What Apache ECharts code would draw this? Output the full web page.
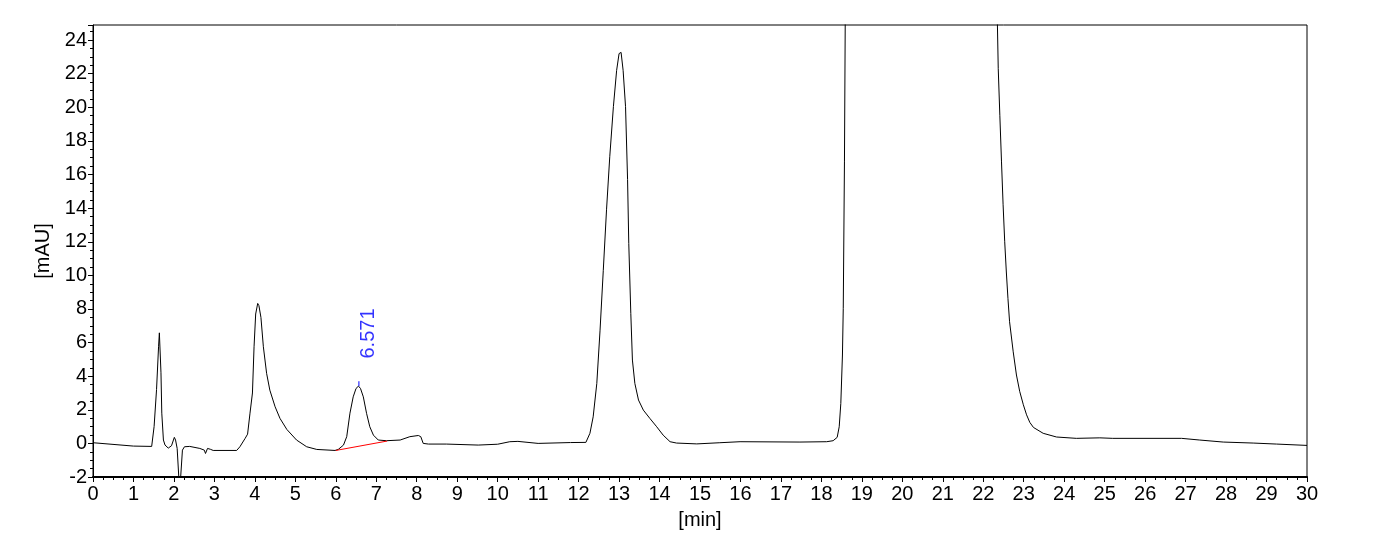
<!DOCTYPE html>
<html>
<head>
<meta charset="utf-8">
<script src="https://cdn.jsdelivr.net/npm/echarts@6/dist/echarts.min.js"></script>
<style>
html,body{margin:0;padding:0;background:#fff;}
#chart{width:1381px;height:551px;}
</style>
</head>
<body>
<div id="chart"></div>
<script>
// Retention time (min)
var times = [
  0.00, 1.00, 1.45, 1.51, 1.57, 1.62, 1.64, 1.68, 1.70, 1.74, 1.78, 1.86, 1.94, 2.01, 2.04, 2.08, 2.12, 2.15, 2.17, 2.21, 2.26,
  2.39, 2.64, 2.75, 2.78, 2.83, 2.90, 2.97, 3.55, 3.63, 3.76, 3.82, 3.88, 3.94, 3.98, 4.02, 4.07, 4.10, 4.15, 4.21,
  4.29, 4.37, 4.50, 4.62, 4.79, 5.03, 5.28, 5.53, 5.98, 6.06, 6.19, 6.27, 6.35, 6.43, 6.50, 6.56, 6.61, 6.68, 6.76,
  6.84, 6.93, 7.05, 7.25, 7.59, 7.83, 8.04, 8.10, 8.16, 8.29, 8.73, 9.52, 10.00, 10.30, 10.50, 11.00, 11.80, 12.18,
  12.28, 12.36, 12.45, 12.53, 12.61, 12.69, 12.77, 12.86, 12.94, 13.00, 13.05, 13.10, 13.16, 13.21, 13.24, 13.29,
  13.33, 13.39, 13.48, 13.60, 13.76, 13.93, 14.09, 14.26, 14.42, 14.92, 15.49, 15.99, 17.47, 18.13, 18.29, 18.39,
  18.44, 18.48, 18.52, 18.54, 18.57, 18.60, 20.40, 22.31, 22.37, 22.41, 22.45, 22.49, 22.53, 22.57, 22.61, 22.65,
  22.74, 22.82, 22.90, 22.99, 23.07, 23.15, 23.24, 23.48, 23.81, 24.30, 24.88, 25.20, 26.90, 27.35, 27.93, 28.67, 29.25, 30.00
];
// Absorbance (mAU)
var absorbance = [
  0.04, -0.16, -0.18, 1.00, 3.20, 5.75, 6.58, 4.20, 1.80, 0.20, -0.10, -0.28, -0.14, 0.36, 0.20, -0.30, -2.00, -2.60, -2.50, -0.40, -0.20,
  -0.18, -0.30, -0.40, -0.60, -0.30, -0.35, -0.42, -0.42, -0.20, 0.30, 0.55, 1.80, 3.00, 5.75, 7.70, 8.33, 8.20, 7.50, 5.75,
  4.17, 3.17, 2.18, 1.49, 0.83, 0.20, -0.20, -0.36, -0.42, -0.36, -0.10, 0.40, 1.80, 2.77, 3.27, 3.41, 3.27, 2.77, 1.79,
  0.99, 0.49, 0.20, 0.16, 0.20, 0.40, 0.47, 0.40, 0.00, -0.04, -0.04, -0.10, -0.05, 0.10, 0.12, 0.00, 0.05, 0.06,
  0.60, 1.58, 3.57, 6.74, 10.30, 13.90, 17.06, 20.04, 22.20, 23.20, 23.27, 22.20, 20.04, 15.70, 11.90, 7.74,
  4.96, 3.57, 2.58, 1.98, 1.49, 0.99, 0.49, 0.10, 0.02, -0.03, 0.04, 0.10, 0.08, 0.10, 0.16, 0.36,
  0.99, 2.38, 5.26, 8.04, 16.80, 30.00, 45.00, 30.00, 22.30, 19.50, 16.80, 14.20, 12.00, 10.20, 8.63, 7.24,
  5.45, 4.07, 3.10, 2.30, 1.70, 1.25, 0.95, 0.60, 0.38, 0.30, 0.33, 0.30, 0.30, 0.20, 0.08, 0.02, -0.04, -0.12
];
// Integration baseline for peak 6.571
var baselineTimes = [6.00, 7.27];
var baselineValues = [-0.42, 0.14];
// Peak apex marker and label
var peakLabel = "6.571";
var peakTime = 6.571;
var peakTickValues = [3.41, 3.70];
var peakLabelValue = 5.05;

var yTicks = { min: -2, max: 24.9, interval: 2 };
var xTicks = { min: 0, max: 30, interval: 1 };

function pairs(xs, ys){ var out=[]; for (var i=0;i<xs.length;i++) out.push([xs[i], ys[i]]); return out; }

var chart = echarts.init(document.getElementById('chart'), null, {renderer:'canvas'});
var font = '"Liberation Sans", Arial, sans-serif';
chart.setOption({
  animation: false,
  backgroundColor: '#ffffff',
  grid: { left: 93, right: 74, top: 25, bottom: 74, show: true, borderColor: '#000', borderWidth: 1, backgroundColor: 'transparent' },
  xAxis: {
    type: 'value', min: xTicks.min, max: xTicks.max, interval: xTicks.interval,
    name: '[min]', nameLocation: 'middle', nameGap: 33,
    nameTextStyle: { color: '#000', fontSize: 20, fontFamily: font },
    axisLine: { show: true, onZero: false, lineStyle: { color: '#000', width: 2 } },
    axisTick: { show: true, inside: false, length: 5, lineStyle: { color: '#000', width: 1 } },
    minorTick: { show: true, splitNumber: 4, length: 3, lineStyle: { color: '#000', width: 1 } },
    axisLabel: { color: '#000', fontSize: 20, fontFamily: font, margin: 7 },
    splitLine: { show: false }, minorSplitLine: { show: false }
  },
  yAxis: {
    type: 'value', min: yTicks.min, max: yTicks.max, interval: yTicks.interval,
    name: '[mAU]', nameLocation: 'middle', nameGap: 38, nameRotate: 90,
    nameTextStyle: { color: '#000', fontSize: 20, fontFamily: font },
    axisLine: { show: true, onZero: false, lineStyle: { color: '#000', width: 1 } },
    axisTick: { show: true, inside: false, length: 5, lineStyle: { color: '#000', width: 1 } },
    minorTick: { show: true, splitNumber: 4, length: 3, lineStyle: { color: '#000', width: 1 } },
    axisLabel: { color: '#000', fontSize: 20, fontFamily: font, margin: 6, showMaxLabel: false },
    splitLine: { show: false }, minorSplitLine: { show: false }
  },
  series: [
    {
      type: 'line', data: pairs(times, absorbance), showSymbol: false, symbol: 'none',
      lineStyle: { color: '#000', width: 1 }, clip: true, z: 3
    },
    {
      type: 'line', data: pairs(baselineTimes, baselineValues), showSymbol: false, symbol: 'none',
      lineStyle: { color: '#ff0000', width: 1 }, z: 4
    },
    {
      type: 'line', data: pairs([peakTime, peakTime], peakTickValues), showSymbol: false, symbol: 'none',
      lineStyle: { color: '#0000ff', width: 1 }, z: 4
    },
    {
      type: 'scatter', data: [[peakTime, peakLabelValue]], symbolSize: 0, z: 5,
      label: {
        show: true, formatter: peakLabel, rotate: 90, position: [10, 0],
        align: 'left', verticalAlign: 'middle',
        color: '#0000ff', fontSize: 20, fontFamily: font
      }
    }
  ]
});
</script>
</body>
</html>
